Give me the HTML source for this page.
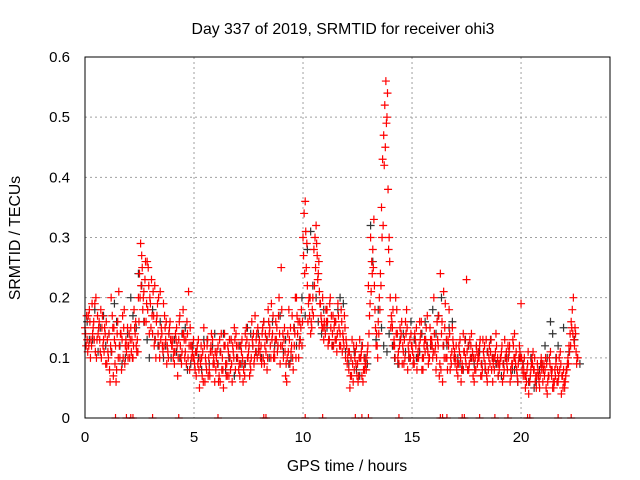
<!DOCTYPE html>
<html><head><meta charset="utf-8"><style>
body{margin:0;background:#fff;}
svg{display:block;font-family:"Liberation Sans",sans-serif;}
</style></head><body>
<svg id="chart" width="640" height="480">
<text x="343" y="34" text-anchor="middle" font-size="15.8">Day 337 of 2019, SRMTID for receiver ohi3</text>
<text x="0" y="0" transform="translate(20,238) rotate(-90)" text-anchor="middle" font-size="15.8">SRMTID / TECUs</text>
<text x="347" y="471" text-anchor="middle" font-size="15.8">GPS time / hours</text>
<g id="grid"></g>
<g id="ticks"></g>
<g id="marks"></g>
<rect x="85" y="57" width="525" height="361" fill="none" stroke="#000" stroke-width="1"/>
</svg>
<script>
const xTicks=[0,5,10,15,20];
const yTicks=[0,0.1,0.2,0.3,0.4,0.5,0.6];
const yTickLabels=["0","0.1","0.2","0.3","0.4","0.5","0.6"];
const redA=[.15,.13,.18,.12,.16,.2,.14,.11,.17,.15,
.09,.14,.2,.07,.12,.16,.1,.13,.18,.11,
.12,.15,.1,.14,.13,.24,.27,.21,.16,.25,
.19,.14,.22,.17,.12,.15,.19,.13,.11,.16,
.12,.09,.15,.13,.1,.18,.11,.14,.08,.12,
.1,.07,.13,.09,.11,.06,.12,.08,.14,.1,
.08,.12,.06,.1,.14,.09,.07,.13,.11,.08,
.1,.07,.13,.09,.15,.11,.08,.12,.17,.1,
.13,.09,.16,.11,.18,.12,.14,.1,.15,.2,
.25,.1,.07,.14,.09,.17,.12,.2,.1,.15,
.3,.36,.22,.17,.15,.28,.32,.24,.19,.2,
.15,.18,.13,.17,.12,.16,.19,.14,.11,.17,
.12,.08,.1,.06,.11,.09,.13,.07,.1,.08,
.22,.3,.28,.18,.12,.2,.35,.47,.56,.38,
.2,.15,.12,.18,.09,.14,.11,.16,.08,.13,
.12,.09,.15,.1,.14,.08,.11,.17,.1,.13,
.2,.08,.12,.24,.06,.15,.1,.18,.09,.12,
.1,.07,.13,.09,.11,.23,.08,.12,.07,.1,
.09,.12,.07,.1,.13,.08,.11,.06,.1,.09,
.08,.11,.07,.1,.12,.06,.09,.14,.08,.1,
.19,.07,.05,.09,.06,.1,.08,.05,.07,.09,
.06,.08,.04,.1,.07,.05,.09,.06,.11,.07,
.05,.08,.12,.16,.2,.14,.1];
const redB=[.12,.17,.1,.14,.19,.13,.16,.1,.13,.09,
.11,.06,.17,.13,.08,.21,.14,.1,.12,.15,
.1,.13,.18,.12,.2,.29,.18,.23,.26,.14,
.23,.17,.1,.14,.21,.12,.17,.09,.14,.13,
.1,.14,.07,.17,.11,.13,.09,.21,.12,.1,
.08,.12,.05,.1,.15,.09,.07,.11,.13,.06,
.11,.07,.14,.05,.09,.12,.1,.06,.15,.12,
.08,.12,.06,.14,.1,.07,.16,.09,.13,.11,
.1,.15,.12,.08,.14,.19,.1,.16,.12,.09,
.12,.15,.06,.18,.11,.08,.2,.14,.16,.12,
.34,.25,.19,.14,.2,.3,.27,.21,.16,.13,
.18,.12,.2,.14,.16,.11,.15,.18,.13,.1,
.1,.05,.13,.08,.12,.07,.1,.06,.09,.11,
.17,.26,.33,.12,.16,.24,.43,.52,.5,.3,
.17,.12,.2,.1,.15,.09,.13,.18,.11,.14,
.09,.13,.1,.16,.08,.12,.15,.09,.13,.1,
.11,.16,.07,.14,.21,.1,.13,.08,.15,.11,
.08,.12,.06,.14,.1,.08,.13,.1,.06,.12,
.11,.07,.13,.09,.06,.12,.08,.1,.14,.07,
.1,.06,.13,.09,.11,.07,.12,.09,.06,.11,
.08,.1,.06,.04,.08,.11,.06,.09,.05,.08,
.09,.05,.07,.11,.05,.08,.06,.1,.04,.08,
.07,.1,.14,.18,.12,.09];
const redC=[.14,.11,.16,.19,.13,.1,.15,.18,.12,.14,
.13,.08,.11,.15,.06,.1,.14,.17,.09,.12,
.14,.11,.12,.16,.11,.2,.25,.16,.19,.22,
.15,.21,.13,.19,.1,.14,.12,.16,.1,.13,
.13,.11,.12,.16,.09,.14,.13,.1,.15,.11,
.09,.11,.08,.12,.06,.1,.13,.07,.11,.09,
.1,.06,.11,.08,.12,.07,.13,.09,.1,.14,
.12,.09,.1,.07,.13,.12,.1,.14,.11,.15,
.11,.14,.09,.13,.16,.1,.17,.13,.11,.14,
.18,.13,.09,.11,.15,.1,.14,.17,.12,.18,
.27,.31,.16,.2,.18,.22,.29,.26,.17,.15,
.14,.16,.19,.12,.15,.13,.17,.12,.14,.15,
.09,.11,.07,.12,.09,.06,.1,.12,.08,.1,
.14,.21,.25,.15,.1,.18,.3,.42,.49,.28,
.15,.18,.1,.14,.12,.16,.09,.14,.12,.1,
.11,.14,.08,.12,.16,.1,.13,.11,.15,.12,
.14,.1,.17,.08,.12,.19,.08,.14,.11,.1,
.12,.09,.1,.08,.13,.11,.09,.14,.1,.08,
.1,.13,.08,.12,.07,.1,.13,.09,.11,.1,
.09,.12,.08,.11,.1,.08,.13,.1,.07,.12,
.1,.08,.07,.11,.07,.09,.1,.07,.06,.1,
.08,.1,.06,.09,.08,.06,.1,.07,.09,.05,
.06,.09,.11,.15,.13,.11];
const redD=[.17,.12,.13,.15,.11,.17,.13,.15,.11,.16,
.1,.12,.15,.09,.14,.12,.08,.15,.13,.1,
.13,.1,.15,.11,.16,.22,.2,.26,.18,.2,
.17,.12,.16,.2,.13,.11,.15,.12,.15,.12,
.11,.13,.1,.12,.14,.1,.16,.12,.1,.13,
.11,.09,.1,.07,.12,.08,.1,.12,.09,.11,
.09,.13,.08,.12,.07,.11,.08,.12,.13,.1,
.09,.11,.08,.12,.1,.09,.13,.1,.14,.12,
.12,.1,.14,.1,.15,.13,.11,.13,.17,.12,
.14,.11,.1,.13,.12,.15,.1,.16,.13,.16,
.24,.29,.2,.16,.17,.25,.23,.19,.15,.16,
.16,.13,.15,.17,.13,.14,.12,.16,.12,.13,
.11,.07,.09,.1,.07,.1,.11,.08,.09,.12,
.19,.24,.22,.14,.14,.22,.32,.45,.54,.26,
.16,.13,.14,.11,.13,.12,.1,.15,.1,.12,
.1,.12,.11,.13,.1,.13,.12,.1,.12,.11,
.12,.13,.09,.16,.1,.13,.12,.1,.13,.09,
.09,.11,.08,.11,.09,.12,.1,.11,.08,.11,
.1,.09,.11,.08,.11,.09,.1,.08,.12,.09,
.1,.09,.1,.08,.12,.09,.1,.11,.09,.1,
.09,.07,.08,.06,.09,.08,.07,.08,.07,.09,
.07,.09,.07,.08,.06,.07,.08,.08,.07,.06,
.08,.09,.12,.14,.15,.1];
const black=[.16,.13,.11,.17,.14,.19,.12,.1,.2,.15,.22,.13,.18,.12,.1,.14,.13,.1,.15,.09,.11,.08,.13,.12,.09,.14,.1,.07,.12,.09,.14,.11,.1,.13,.16,.12,.11,.09,.15,.13,.17,.31,.2,.14,.15,.12,.18,.19,.09,.11,.07,.1,.32,.13,.15,.11,.12,.09,.14,.1,.13,.11,.16,.12,.14,.2,.12,.16,.1,.08,.12,.09,.11,.08,.13,.09,.07,.1,.08,.06,.09,.06,.05,.08,.12,.16,.1];
const black2=[.13,.18,.15,.12,.11,.16,.09,.14,.17,.24,.16,.1,.13,.16,.12,.1,.11,.14,.08,.12,.1,.13,.09,.14,.11,.08,.13,.1,.09,.15,.12,.14,.16,.1,.12,.17,.13,.1,.12,.2,.28,.22,.16,.18,.13,.16,.2,.11,.1,.08,.12,.09,.26,.18,.12,.14,.1,.13,.11,.16,.1,.14,.12,.18,.17,.12,.15,.1,.09,.13,.1,.12,.09,.11,.1,.07,.09,.11,.08,.1,.07,.1,.06,.09,.1,.14,.12,.15,.11,.13,.09];
const zeroTimes=[1.4,1.9,2.1,2.2,3.1,4.3,6.1,8.2,8.3,10.1,10.9,12.4,12.7,13.0,14.4,16.3,16.4,16.6,17.3,17.4,18.1,18.8,19.4,20.3,20.4,21.7,22.3];

const X0=85,X1=610,Y0=418,Y1=57,XMAX=24.08,YMAX=0.6;
const sx=t=>X0+t/XMAX*(X1-X0);
const sy=v=>Y0-v/YMAX*(Y0-Y1);
const NS='http://www.w3.org/2000/svg';
function mk(tag,attrs,parent){const e=document.createElementNS(NS,tag);for(const k in attrs)e.setAttribute(k,attrs[k]);parent.appendChild(e);return e;}
const grid=document.getElementById('grid'),ticks=document.getElementById('ticks'),marks=document.getElementById('marks');
xTicks.forEach(t=>{const x=sx(t);
 if(t>0){const g=mk('line',{x1:x,x2:x,y1:Y1,y2:Y0,stroke:'#a0a0a0','stroke-dasharray':'2,3'},grid);
 
 }
 const l=mk('text',{x:x,y:Y0+24,'text-anchor':'middle','font-size':'15'},ticks);l.textContent=t;
 
 
});
yTicks.forEach((v,i)=>{const y=sy(v);
 if(v>0){const g=mk('line',{x1:X0,x2:X1,y1:y,y2:y,stroke:'#a0a0a0','stroke-dasharray':'2,3'},grid);
 
 }
 const l=mk('text',{x:X0-15,y:y+5,'text-anchor':'end','font-size':'15'},ticks);l.textContent=yTickLabels[i];
 
 
});
function plus(t,v,color,name){const x=sx(t),y=sy(v);
 const p=mk('path',{d:`M${x-4},${y}H${x+4}M${x},${y-4}V${Math.min(y+4,Y0)}`,stroke:color,'stroke-width':1.2,fill:'none'},marks);
 
 }
black.forEach((v,i)=>plus(i*0.25+0.1,v,'#333','black-point'));
black2.forEach((v,i)=>plus(i*0.25+0.2,v,'#333','black-point'));
redA.forEach((v,i)=>plus(i*0.1,v,'#ff0000','red-point'));
redB.forEach((v,i)=>plus(i*0.1+0.05,v,'#ff0000','red-point'));
redC.forEach((v,i)=>plus(i*0.1+0.025,v,'#ff0000','red-point'));
redD.forEach((v,i)=>plus(i*0.1+0.075,v,'#ff0000','red-point'));
zeroTimes.forEach(t=>plus(t,0,'#ff0000','zero-point'));
</script>
</body></html>
